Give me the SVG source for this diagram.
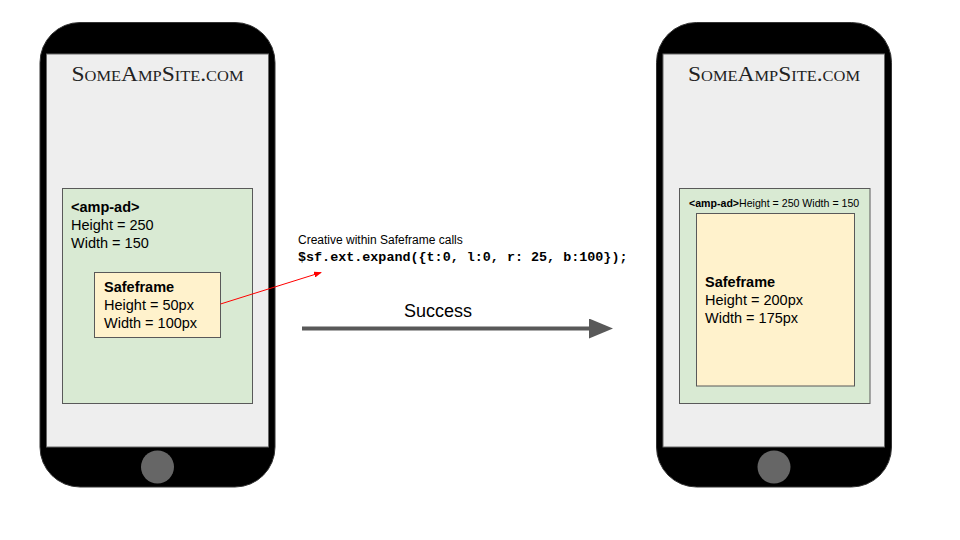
<svg xmlns="http://www.w3.org/2000/svg" width="960" height="540" viewBox="0 0 960 540">
<defs>
<style>
.phone{fill:#000;stroke:#333;stroke-width:1}
.screen{fill:#eeeeee;stroke:#666;stroke-width:1}
.btn{fill:#666}
.ad{fill:#d9ead3;stroke:#595959;stroke-width:1}
.sf{fill:#fff2cc;stroke:#595959;stroke-width:1}
.title{font-family:"Liberation Serif",serif;font-variant:small-caps;font-size:20px;fill:#222;text-anchor:middle}
.t{font-family:"Liberation Sans",Arial,sans-serif;font-size:14.5px;fill:#000}
.b{font-weight:bold}
.s{font-family:"Liberation Sans",Arial,sans-serif;font-size:12px;fill:#000}
.code{font-family:"Liberation Mono","Courier New",monospace;font-size:13.4px;font-weight:bold;fill:#000}
</style>
<marker id="redhead" markerWidth="8" markerHeight="6" refX="7" refY="3" orient="auto" markerUnits="userSpaceOnUse">
<path d="M0,0 L8,3 L0,6 Z" fill="#ff0000"/>
</marker>
<marker id="bighead" markerWidth="24" markerHeight="20" refX="1" refY="10" orient="auto" markerUnits="userSpaceOnUse">
<path d="M0,0 L24,10 L0,20 Z" fill="#595959"/>
</marker>
</defs>

<g id="phone-left">
<rect class="phone" x="40" y="22.5" width="235" height="464.5" rx="40" ry="40"/>
<rect class="screen" x="46.5" y="54" width="222" height="393"/>
<circle class="btn" cx="157.5" cy="467" r="16.5"/>
<text class="title" x="157.5" y="81" textLength="172" lengthAdjust="spacingAndGlyphs">SomeAmpSite.com</text>
</g>

<g id="amp-ad-left">
<rect class="ad" x="62.5" y="188.5" width="190" height="215"/>
<text class="t b" x="71" y="212">&lt;amp-ad&gt;</text>
<text class="t" x="71" y="230">Height = 250</text>
<text class="t" x="71" y="248">Width = 150</text>
</g>

<g id="safeframe-left">
<rect class="sf" x="94.5" y="272.5" width="126" height="65"/>
<text class="t b" x="104" y="292">Safeframe</text>
<text class="t" x="104" y="310">Height = 50px</text>
<text class="t" x="104" y="328">Width = 100px</text>
</g>

<g id="call-label">
<text class="s" x="298" y="244">Creative within Safeframe calls</text>
<text class="code" x="298" y="261">$sf.ext.expand({t:0, l:0, r: 25, b:100});</text>
</g>

<g id="success-label">
<text class="t" x="438" y="317" style="font-size:18px" text-anchor="middle">Success</text>
</g>

<g id="phone-right">
<rect class="phone" x="656.5" y="22.5" width="235" height="464.5" rx="40" ry="40"/>
<rect class="screen" x="663" y="54" width="221.5" height="393"/>
<circle class="btn" cx="774" cy="467" r="16.5"/>
<text class="title" x="774" y="81" textLength="172" lengthAdjust="spacingAndGlyphs">SomeAmpSite.com</text>
</g>

<g id="amp-ad-right">
<rect class="ad" x="679.5" y="188.5" width="190.5" height="215"/>
<text class="t" x="689" y="207" style="font-size:10.6px"><tspan class="b">&lt;amp-ad&gt;</tspan>Height = 250 Width = 150</text>
</g>

<g id="safeframe-right">
<rect class="sf" x="696.5" y="213.5" width="158" height="172.5"/>
<text class="t b" x="705" y="287">Safeframe</text>
<text class="t" x="705" y="305">Height = 200px</text>
<text class="t" x="705" y="323">Width = 175px</text>
</g>

<g id="connectors">
<line x1="220.5" y1="304" x2="321" y2="272.5" stroke="#ff0000" stroke-width="1" marker-end="url(#redhead)"/>
<line x1="302" y1="328.5" x2="590" y2="328.5" stroke="#595959" stroke-width="4" marker-end="url(#bighead)"/>
</g>
</svg>
